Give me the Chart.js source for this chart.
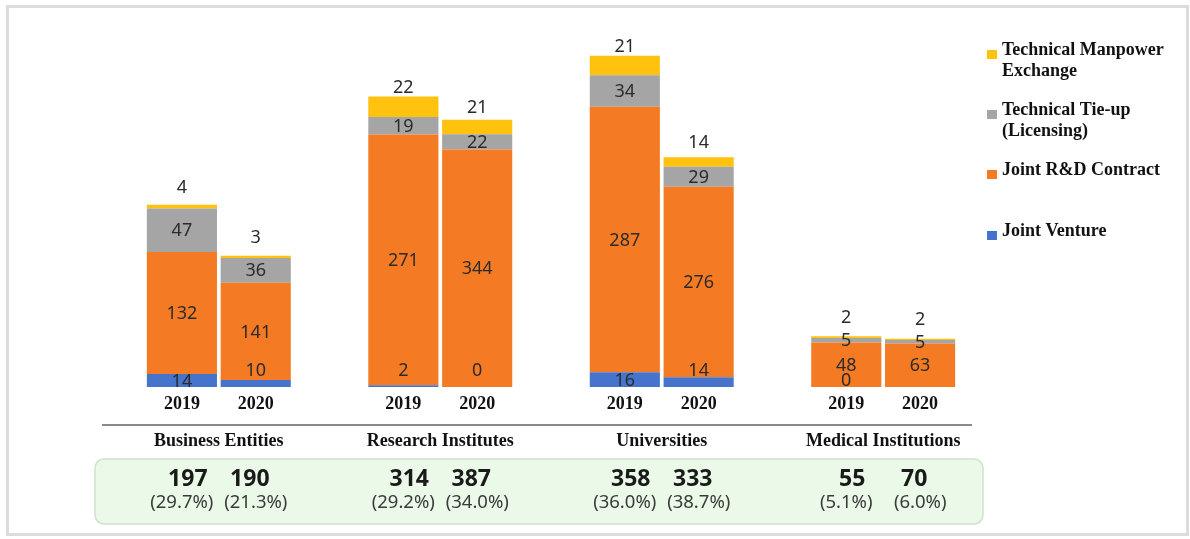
<!DOCTYPE html>
<html>
<head>
<meta charset="utf-8">
<script src="https://cdn.jsdelivr.net/npm/chart.js@4.4.1/dist/chart.umd.min.js"></script>
<style>
  html, body { margin: 0; padding: 0; background: #ffffff; }
  #wrap { width: 1190px; height: 539px; position: relative; }
</style>
</head>
<body>
<div id="wrap"><canvas id="c"></canvas></div>
<script>
// ---- data ----
const groups = ['Business Entities', 'Research Institutes', 'Universities', 'Medical Institutions'];
const years = ['2019', '2020'];
// values per bar, in order: group0-2019, group0-2020, group1-2019, ...
const jointVenture      = [14, 10, 2, 0, 16, 14, 0, null];
const jointRnD          = [132, 141, 271, 344, 287, 276, 48, 63];
const techTieUp         = [47, 36, 19, 22, 34, 29, 5, 5];
const techManpower      = [4, 3, 22, 21, 21, 14, 2, 2];
const sharePercent      = [29.7, 21.3, 29.2, 34.0, 36.0, 38.7, 5.1, 6.0];
const seriesNames = ['Joint Venture', 'Joint R&D Contract', 'Technical Tie-up\n(Licensing)', 'Technical Manpower\nExchange'];
// the source draws each year's bars on its own value scale
const yearScaleMax = [400, 536];

// ---- build category layout (spacer slot between groups) ----
const labels = [];
const slotOf = [];
const yearOf = [];
groups.forEach((g, gi) => {
  years.forEach((y, yi) => { slotOf.push(labels.length); yearOf.push(yi); labels.push(y); });
  if (gi < groups.length - 1) labels.push('');
});
function spread(arr, yi) {
  const out = new Array(labels.length).fill(null);
  arr.forEach((v, i) => { if (yearOf[i] === yi) out[slotOf[i]] = v; });
  return out;
}
const totals = jointVenture.map((_, i) =>
  (jointVenture[i] || 0) + (jointRnD[i] || 0) + (techTieUp[i] || 0) + (techManpower[i] || 0));

const colors = ['#4674CC', '#F47B24', '#A5A5A5', '#FFC20E'];
const seriesArrays = [jointVenture, jointRnD, techTieUp, techManpower];

const SERIF = '"Liberation Serif", "Times New Roman", serif';
const SANS = '"Noto Sans", "Open Sans", sans-serif';

const datasets = [];
years.forEach((y, yi) => {
  seriesArrays.forEach((arr, si) => {
    datasets.push({
      label: seriesNames[si].replace('\n', ' ') + ' ' + y,
      data: spread(arr, yi),
      backgroundColor: colors[si],
      borderWidth: 0,
      barPercentage: 0.95,
      categoryPercentage: 1.0,
      stack: 's',
      yAxisID: yi === 0 ? 'y' : 'y2',
      seriesIndex: si
    });
  });
});

const decor = {
  id: 'decor',
  beforeDraw(chart) {
    const ctx = chart.ctx;
    ctx.save();
    ctx.fillStyle = '#ffffff';
    ctx.fillRect(0, 0, chart.width, chart.height);
    ctx.strokeStyle = '#dcdcdc';
    ctx.lineWidth = 3;
    ctx.strokeRect(7.5, 6.5, 1180, 528);
    ctx.strokeStyle = '#8a8a8a';
    ctx.lineWidth = 2;
    ctx.beginPath();
    ctx.moveTo(102, 425);
    ctx.lineTo(972, 425);
    ctx.stroke();
    const x = 95, y = 459, w = 888, h = 65, r = 9;
    ctx.beginPath();
    ctx.moveTo(x + r, y);
    ctx.arcTo(x + w, y, x + w, y + h, r);
    ctx.arcTo(x + w, y + h, x, y + h, r);
    ctx.arcTo(x, y + h, x, y, r);
    ctx.arcTo(x, y, x + w, y, r);
    ctx.closePath();
    ctx.fillStyle = '#EBFAE8';
    ctx.fill();
    ctx.strokeStyle = '#CFE3CB';
    ctx.lineWidth = 1.5;
    ctx.stroke();
    ctx.restore();
  },
  afterDatasetsDraw(chart) {
    const ctx = chart.ctx;
    ctx.save();
    ctx.font = '18px ' + SANS;
    ctx.fillStyle = '#2b2b2b';
    ctx.textAlign = 'center';
    ctx.textBaseline = 'middle';
    chart.data.datasets.forEach((ds, di) => {
      const meta = chart.getDatasetMeta(di);
      const si = ds.seriesIndex;
      meta.data.forEach((bar, i) => {
        const v = ds.data[i];
        if (v === null || v === undefined) return;
        const top = bar.y, bottom = bar.base;
        const base = chart.scales[ds.yAxisID].getPixelForValue(0);
        const mid = (top + bottom) / 2;
        let y = mid;
        if (si === 0) {
          if ((bottom - top) >= 12) {
            y = mid;
          } else {
            y = base - 17;
            // avoid colliding with the R&D label of the same bar
            const rnd = chart.getDatasetMeta(di + 1).data[i];
            if (rnd) {
              const rmid = (rnd.y + rnd.base) / 2;
              if (Math.abs(rmid - y) < 18) y = base - 7;
            }
          }
        } else if (si === 3) {
          y = mid - 20;
        }
        ctx.fillText(String(v), bar.x, y + 1);
      });
    });
    ctx.restore();
  },
  afterDraw(chart) {
    const ctx = chart.ctx;
    const xScale = chart.scales.x;
    ctx.save();
    ctx.fillStyle = '#111111';
    ctx.textAlign = 'center';
    ctx.textBaseline = 'middle';
    ctx.font = 'bold 18px ' + SERIF;
    slotOf.forEach((s) => {
      ctx.fillText(labels[s], xScale.getPixelForValue(s), 404);
    });
    groups.forEach((g, gi) => {
      const a = xScale.getPixelForValue(slotOf[gi * 2]);
      const b = xScale.getPixelForValue(slotOf[gi * 2 + 1]);
      const c = (a + b) / 2;
      ctx.font = 'bold 18px ' + SERIF;
      ctx.fillStyle = '#111111';
      ctx.fillText(g, c, 441);
      ctx.font = 'bold 23px ' + SANS;
      ctx.fillStyle = '#1a1a1a';
      ctx.fillText(String(totals[gi * 2]), c - 31, 479);
      ctx.fillText(String(totals[gi * 2 + 1]), c + 31, 479);
      ctx.font = '18.5px ' + SANS;
      ctx.fillStyle = '#3a3a3a';
      ctx.fillText('(' + sharePercent[gi * 2].toFixed(1) + '%)', c - 37, 503);
      ctx.fillText('(' + sharePercent[gi * 2 + 1].toFixed(1) + '%)', c + 37, 503);
    });
    const legendY = [50, 110, 170, 231];
    ctx.textAlign = 'left';
    ctx.font = 'bold 18px ' + SERIF;
    for (let k = 0; k < 4; k++) {
      const si = 3 - k;
      const y0 = legendY[k];
      ctx.fillStyle = colors[si];
      ctx.fillRect(987, y0, 10, 9);
      ctx.fillStyle = '#111111';
      const lines = seriesNames[si].split('\n');
      lines.forEach((ln, li) => ctx.fillText(ln, 1002, y0 + li * 21));
    }
    ctx.restore();
  }
};

new Chart(document.getElementById('c'), {
  type: 'bar',
  data: { labels: labels, datasets: datasets },
  options: {
    responsive: true,
    maintainAspectRatio: false,
    animation: false,
    layout: { padding: { left: 145, right: 233, top: 17, bottom: 152 } },
    plugins: { legend: { display: false }, tooltip: { enabled: false } },
    scales: {
      x: { stacked: true, display: false },
      y: { stacked: true, display: false, min: 0, max: yearScaleMax[0] },
      y2: { stacked: true, display: false, min: 0, max: yearScaleMax[1], position: 'left' }
    }
  },
  plugins: [decor]
});
</script>
</body>
</html>
